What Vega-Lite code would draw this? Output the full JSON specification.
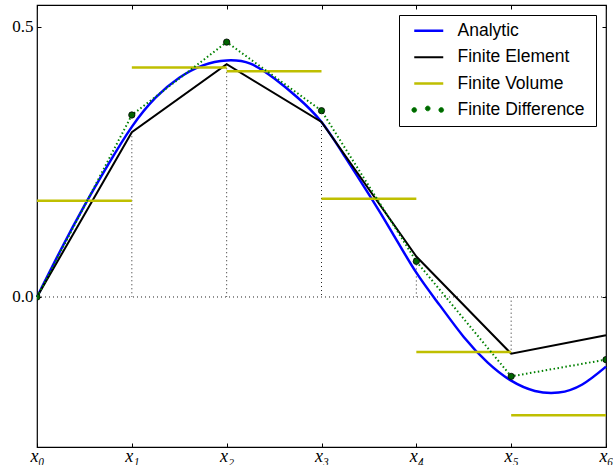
{
  "$schema": "https://vega.github.io/schema/vega-lite/v6.json",
  "width": 569,
  "height": 442,
  "autosize": "none",
  "padding": {"left": 37, "top": 5, "right": 7, "bottom": 18},
  "background": "white",
  "config": {
    "view": {"stroke": "black", "strokeWidth": 1.2},
    "axis": {"grid": false, "domain": false, "title": null, "tickColor": "black", "tickWidth": 1}
  },
  "datasets": {
    "analytic": [
      {"x": 0, "y": 0, "series": "Analytic"},
      {"x": 0.25, "y": 0.087, "series": "Analytic"},
      {"x": 0.5, "y": 0.169, "series": "Analytic"},
      {"x": 0.75, "y": 0.245, "series": "Analytic"},
      {"x": 1, "y": 0.315, "series": "Analytic"},
      {"x": 1.25, "y": 0.369, "series": "Analytic"},
      {"x": 1.5, "y": 0.406, "series": "Analytic"},
      {"x": 1.75, "y": 0.429, "series": "Analytic"},
      {"x": 2, "y": 0.438, "series": "Analytic"},
      {"x": 2.25, "y": 0.432, "series": "Analytic"},
      {"x": 2.5, "y": 0.405, "series": "Analytic"},
      {"x": 2.75, "y": 0.369, "series": "Analytic"},
      {"x": 3, "y": 0.324, "series": "Analytic"},
      {"x": 3.25, "y": 0.259, "series": "Analytic"},
      {"x": 3.5, "y": 0.19, "series": "Analytic"},
      {"x": 3.75, "y": 0.118, "series": "Analytic"},
      {"x": 4, "y": 0.045, "series": "Analytic"},
      {"x": 4.25, "y": -0.016, "series": "Analytic"},
      {"x": 4.5, "y": -0.074, "series": "Analytic"},
      {"x": 4.75, "y": -0.121, "series": "Analytic"},
      {"x": 5, "y": -0.155, "series": "Analytic"},
      {"x": 5.25, "y": -0.174, "series": "Analytic"},
      {"x": 5.5, "y": -0.177, "series": "Analytic"},
      {"x": 5.75, "y": -0.162, "series": "Analytic"},
      {"x": 6, "y": -0.129, "series": "Analytic"}
    ],
    "fe": [
      {"x": 0, "y": 0, "series": "Finite Element"},
      {"x": 1, "y": 0.305, "series": "Finite Element"},
      {"x": 2, "y": 0.431, "series": "Finite Element"},
      {"x": 3, "y": 0.324, "series": "Finite Element"},
      {"x": 4, "y": 0.075, "series": "Finite Element"},
      {"x": 5, "y": -0.105, "series": "Finite Element"},
      {"x": 6, "y": -0.071, "series": "Finite Element"}
    ],
    "fv": [
      {"x": 0, "x2": 1, "y": 0.178, "series": "Finite Volume"},
      {"x": 1, "x2": 2, "y": 0.425, "series": "Finite Volume"},
      {"x": 2, "x2": 3, "y": 0.418, "series": "Finite Volume"},
      {"x": 3, "x2": 4, "y": 0.182, "series": "Finite Volume"},
      {"x": 4, "x2": 5, "y": -0.102, "series": "Finite Volume"},
      {"x": 5, "x2": 6, "y": -0.219, "series": "Finite Volume"}
    ],
    "fd": [
      {"x": 0, "y": 0, "series": "Finite Difference"},
      {"x": 1, "y": 0.337, "series": "Finite Difference"},
      {"x": 2, "y": 0.472, "series": "Finite Difference"},
      {"x": 3, "y": 0.345, "series": "Finite Difference"},
      {"x": 4, "y": 0.066, "series": "Finite Difference"},
      {"x": 5, "y": -0.147, "series": "Finite Difference"},
      {"x": 6, "y": -0.116, "series": "Finite Difference"}
    ],
    "zero": [{"x": 0, "x2": 6, "y": 0}],
    "nodes": [
      {"x": 1, "y": 0.305},
      {"x": 2, "y": 0.431},
      {"x": 3, "y": 0.324},
      {"x": 4, "y": 0.075},
      {"x": 5, "y": -0.105}
    ]
  },
  "resolve": {"axis": {"x": "independent", "y": "independent"}},
  "layer": [
    {
      "data": {"name": "zero"},
      "mark": {"type": "rule", "color": "#222", "strokeWidth": 1, "strokeDash": [1, 3]},
      "encoding": {
        "x": {"field": "x", "type": "quantitative", "scale": {"domain": [0, 6], "nice": false, "zero": false},
              "axis": {"orient": "top", "values": [0, 1, 2, 3, 4, 5, 6], "labels": false, "tickSize": -4}},
        "x2": {"field": "x2"},
        "y": {"field": "y", "type": "quantitative", "scale": {"domain": [-0.2778, 0.5407], "nice": false, "zero": false},
              "axis": {"orient": "right", "values": [0, 0.5], "labels": false, "tickSize": -4}}
      }
    },
    {
      "data": {"name": "nodes"},
      "mark": {"type": "rule", "color": "#222", "strokeWidth": 1, "strokeDash": [1, 3]},
      "encoding": {
        "x": {"field": "x", "type": "quantitative", "axis": null},
        "y": {"field": "y", "type": "quantitative", "axis": null},
        "y2": {"datum": 0}
      }
    },
    {
      "data": {"name": "analytic"},
      "mark": {"type": "line", "strokeWidth": 2.5, "interpolate": "natural"},
      "encoding": {
        "x": {"field": "x", "type": "quantitative",
              "axis": {"orient": "bottom", "values": [0, 1, 2, 3, 4, 5, 6], "tickSize": -4, "labelPadding": 4,
                       "labelExpr": "'x' + ['₀','₁','₂','₃','₄','₅','₆'][datum.value]",
                       "labelFont": "Liberation Serif, DejaVu Serif", "labelFontStyle": "italic", "labelFontSize": 18, "labelColor": "black", "labelFlush": false}},
        "y": {"field": "y", "type": "quantitative",
              "axis": {"orient": "left", "values": [0, 0.5], "format": ".1f", "tickSize": -4, "labelPadding": 8,
                       "labelFont": "Liberation Serif, DejaVu Serif", "labelFontSize": 17, "labelColor": "black"}},
        "color": {"field": "series", "type": "nominal",
                  "scale": {"domain": ["Analytic", "Finite Element", "Finite Volume", "Finite Difference"],
                            "range": ["#0000ff", "#000000", "#bfbf00", "#008000"]},
                  "legend": {
                    "title": null, "orient": "top-right", "offset": 10,
                    "padding": 7, "fillColor": "white", "strokeColor": "black", "cornerRadius": 0,
                    "symbolType": "stroke", "symbolSize": 400, "rowPadding": 7.4, "labelOffset": 34,
                    "labelFont": "Liberation Sans", "labelFontSize": 17.5, "labelColor": "black", "labelLimit": 300,
                    "encode": {
                      "symbols": {
                        "update": {
                          "shape": {"signal": "datum.label === 'Finite Difference' ? 'M-0.65,0L-0.65,0M0.19,0A0.24,0.24 0 1,1 -0.29,0A0.24,0.24 0 1,1 0.19,0ZM1.54,-0.15A0.24,0.24 0 1,1 1.06,-0.15A0.24,0.24 0 1,1 1.54,-0.15ZM2.89,0A0.24,0.24 0 1,1 2.41,0A0.24,0.24 0 1,1 2.89,0ZM16.92,0L16.92,0' : 'M-0.65,0L-0.65,0M-0.05,0H2.85M16.92,0L16.92,0'"},
                          "fill": {"signal": "datum.label === 'Finite Difference' ? '#006400' : 'transparent'"},
                          "stroke": {"signal": "datum.label === 'Finite Difference' ? '#000000' : scale('color', datum.value)"},
                          "strokeWidth": {"signal": "datum.label === 'Finite Difference' ? 0.8 : (datum.label === 'Finite Element' ? 2 : 2.5)"},
                          "strokeDash": {"value": [1, 0]},
                          "strokeCap": {"value": "butt"},
                          "opacity": {"value": 1}
                        }
                      }
                    }
                  }}
      }
    },
    {
      "data": {"name": "fe"},
      "mark": {"type": "line", "strokeWidth": 2},
      "encoding": {
        "x": {"field": "x", "type": "quantitative", "axis": null},
        "y": {"field": "y", "type": "quantitative", "axis": null},
        "color": {"field": "series", "type": "nominal"}
      }
    },
    {
      "data": {"name": "fv"},
      "mark": {"type": "rule", "strokeWidth": 2.5},
      "encoding": {
        "x": {"field": "x", "type": "quantitative", "axis": null},
        "x2": {"field": "x2"},
        "y": {"field": "y", "type": "quantitative", "axis": null},
        "color": {"field": "series", "type": "nominal"}
      }
    },
    {
      "data": {"name": "fd"},
      "mark": {"type": "line", "strokeWidth": 2, "strokeDash": [1.5, 2.5]},
      "encoding": {
        "x": {"field": "x", "type": "quantitative", "axis": null},
        "y": {"field": "y", "type": "quantitative", "axis": null},
        "color": {"field": "series", "type": "nominal"}
      }
    },
    {
      "data": {"name": "fd"},
      "mark": {"type": "point", "filled": true, "fill": "#006400", "stroke": "#000000", "strokeWidth": 0.8, "size": 40, "opacity": 1, "clip": true},
      "encoding": {
        "x": {"field": "x", "type": "quantitative", "axis": null},
        "y": {"field": "y", "type": "quantitative", "axis": null}
      }
    }
  ]
}
